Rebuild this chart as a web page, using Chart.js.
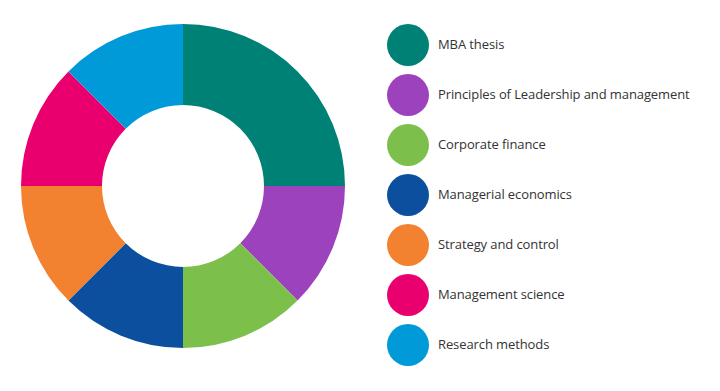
<!DOCTYPE html>
<html>
<head>
<meta charset="utf-8">
<script src="https://cdn.jsdelivr.net/npm/chart.js@4"></script>
<style>
  html, body { margin: 0; padding: 0; background: #fff; }
  body { width: 720px; height: 391px; position: relative; overflow: hidden; font-family: "Open Sans", sans-serif; }
  #chart-wrap { position: absolute; left: 21px; top: 24px; width: 324px; height: 324px; }
  #legend { position: absolute; left: 387px; top: 24px; margin: 0; padding: 0; list-style: none; }
  #legend li { display: flex; align-items: center; height: 42px; margin-bottom: 8px; }
  #legend .dot { width: 42px; height: 42px; border-radius: 50%; margin-right: 9px; flex: none; }
  #legend .txt { font-size: 13px; color: #333; white-space: nowrap; letter-spacing: -0.1px; position: relative; top: -1px; }
</style>
</head>
<body>
<div id="chart-wrap"><canvas id="modulesChart"></canvas></div>
<ul id="legend"></ul>
<script>
document.addEventListener("DOMContentLoaded", () => {

  const modules = [
    "MBA thesis",
    "Principles of Leadership and management",
    "Corporate finance",
    "Managerial economics",
    "Strategy and control",
    "Management science",
    "Research methods"
  ];
  const credits = [2, 1, 1, 1, 1, 1, 1];
  const colours = ["#008176", "#9c42bd", "#7dbf4b", "#0c4f9e", "#f38230", "#e9006e", "#009ad8"];

  const ctx = document.getElementById("modulesChart").getContext("2d");
  const chart = new Chart(ctx, {
    type: 'doughnut',
    data: {
      labels: modules,
      datasets: [{
        data: credits,
        backgroundColor: colours,
        borderWidth: 0
      }]
    },
    options: {
      responsive: true,
      maintainAspectRatio: false,
      animation: false,
      cutout: '50%',
      layout: { padding: 0 },
      plugins: {
        legend: { display: false },
        tooltip: { enabled: false }
      }
    }
  });

  // html legend built from the chart data
  const legend = document.getElementById("legend");
  chart.data.labels.forEach((label, i) => {
    const li = document.createElement("li");
    li.innerHTML = `<span class="dot" style="background:${chart.data.datasets[0].backgroundColor[i]}"></span><span class="txt">${label}</span>`;
    legend.appendChild(li);
  });

});
</script>
</body>
</html>
